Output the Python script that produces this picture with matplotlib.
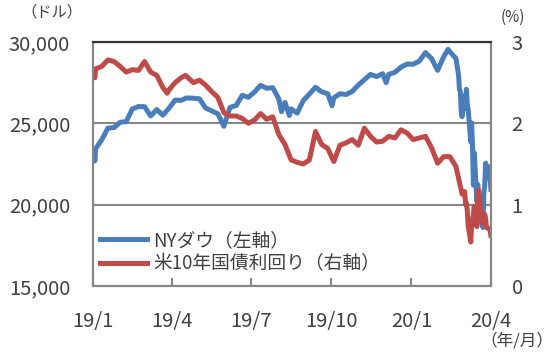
import numpy as np
import matplotlib
matplotlib.use('Agg')
import matplotlib.pyplot as plt

plt.rcParams['font.family'] = ['Noto Sans CJK JP', 'DejaVu Sans']

# NYダウ (ドル)
dow_dates = ['2019-01-02', '2019-01-03', '2019-01-04', '2019-01-11', '2019-01-18', '2019-01-25',
             '2019-02-01', '2019-02-08', '2019-02-15', '2019-02-22', '2019-03-01', '2019-03-08',
             '2019-03-15', '2019-03-22', '2019-03-29', '2019-04-05', '2019-04-12', '2019-04-18',
             '2019-04-26', '2019-05-03', '2019-05-10', '2019-05-17', '2019-05-24', '2019-05-31',
             '2019-06-07', '2019-06-14', '2019-06-21', '2019-06-28', '2019-07-05', '2019-07-12',
             '2019-07-19', '2019-07-26', '2019-08-02', '2019-08-05', '2019-08-09', '2019-08-14',
             '2019-08-16', '2019-08-23', '2019-08-30', '2019-09-06', '2019-09-13', '2019-09-20',
             '2019-09-27', '2019-10-02', '2019-10-04', '2019-10-11', '2019-10-18', '2019-10-25',
             '2019-11-01', '2019-11-08', '2019-11-15', '2019-11-22', '2019-11-29', '2019-12-03',
             '2019-12-06', '2019-12-13', '2019-12-20', '2019-12-27', '2020-01-03', '2020-01-10',
             '2020-01-17', '2020-01-24', '2020-01-31', '2020-02-07', '2020-02-12', '2020-02-14',
             '2020-02-21', '2020-02-24', '2020-02-25', '2020-02-26', '2020-02-27', '2020-02-28',
             '2020-03-02', '2020-03-03', '2020-03-04', '2020-03-05', '2020-03-06', '2020-03-09',
             '2020-03-10', '2020-03-11', '2020-03-12', '2020-03-13', '2020-03-16', '2020-03-17',
             '2020-03-18', '2020-03-19', '2020-03-20', '2020-03-23', '2020-03-24', '2020-03-25',
             '2020-03-26', '2020-03-27', '2020-03-30', '2020-03-31', '2020-04-01']
dow = [23346, 22686, 23433, 23996, 24706, 24737,
       25064, 25106, 25883, 26031, 26026, 25450,
       25849, 25502, 25929, 26425, 26412, 26559,
       26543, 26505, 25942, 25764, 25586, 24815,
       25984, 26090, 26719, 26600, 26922, 27332,
       27154, 27192, 26485, 25718, 26287, 25479,
       25886, 25629, 26403, 26797, 27220, 26935,
       26820, 26079, 26573, 26817, 26770, 26958,
       27347, 27681, 28005, 27876, 28051, 27503,
       28015, 28135, 28455, 28645, 28635, 28824,
       29348, 28990, 28256, 29103, 29551, 29398,
       28992, 27961, 27081, 26957, 25766, 25409,
       26703, 25917, 27091, 26121, 25864, 23851,
       25018, 23553, 21200, 23186, 20189, 21237,
       19899, 20087, 19174, 18592, 20705, 21201,
       22552, 21637, 22328, 21917, 20943]

# 米10年国債利回り (%)
yld_dates = ['2019-01-02', '2019-01-03', '2019-01-04', '2019-01-11', '2019-01-18', '2019-01-25',
             '2019-02-01', '2019-02-08', '2019-02-15', '2019-02-22', '2019-03-01', '2019-03-08',
             '2019-03-15', '2019-03-22', '2019-03-27', '2019-03-29', '2019-04-05', '2019-04-12',
             '2019-04-17', '2019-04-26', '2019-05-03', '2019-05-10', '2019-05-17', '2019-05-24',
             '2019-05-31', '2019-06-07', '2019-06-14', '2019-06-21', '2019-06-28', '2019-07-05',
             '2019-07-12', '2019-07-19', '2019-07-26', '2019-08-02', '2019-08-09', '2019-08-16',
             '2019-08-23', '2019-08-30', '2019-09-06', '2019-09-13', '2019-09-20', '2019-09-27',
             '2019-10-04', '2019-10-11', '2019-10-18', '2019-10-25', '2019-11-01', '2019-11-08',
             '2019-11-15', '2019-11-22', '2019-11-29', '2019-12-06', '2019-12-13', '2019-12-20',
             '2019-12-27', '2020-01-03', '2020-01-10', '2020-01-17', '2020-01-24', '2020-01-31',
             '2020-02-07', '2020-02-14', '2020-02-21', '2020-02-28', '2020-03-02', '2020-03-03',
             '2020-03-04', '2020-03-05', '2020-03-06', '2020-03-09', '2020-03-10', '2020-03-11',
             '2020-03-12', '2020-03-13', '2020-03-16', '2020-03-17', '2020-03-18', '2020-03-19',
             '2020-03-20', '2020-03-23', '2020-03-24', '2020-03-25', '2020-03-26', '2020-03-27',
             '2020-03-30', '2020-03-31', '2020-04-01']
yld = [2.66, 2.56, 2.67, 2.70, 2.78, 2.76,
       2.70, 2.63, 2.66, 2.65, 2.76, 2.63,
       2.59, 2.44, 2.37, 2.41, 2.50, 2.56,
       2.59, 2.50, 2.53, 2.47, 2.39, 2.32,
       2.13, 2.09, 2.09, 2.06, 2.00, 2.04,
       2.12, 2.05, 2.08, 1.86, 1.74, 1.55,
       1.52, 1.50, 1.55, 1.90, 1.74, 1.69,
       1.53, 1.73, 1.76, 1.80, 1.73, 1.94,
       1.84, 1.77, 1.78, 1.84, 1.82, 1.92,
       1.88, 1.80, 1.82, 1.84, 1.70, 1.51,
       1.59, 1.59, 1.47, 1.13, 1.16, 1.00,
       1.02, 0.92, 0.74, 0.54, 0.76, 0.82,
       0.88, 0.98, 0.73, 1.08, 1.18, 1.12,
       0.92, 0.76, 0.84, 0.88, 0.83, 0.72,
       0.70, 0.70, 0.62]

xticks = ['2019-01-01', '2019-04-01', '2019-07-01', '2019-10-01', '2020-01-01', '2020-04-01']
xticklabels = ['19/1', '19/4', '19/7', '19/10', '20/1', '20/4']

txt = '#404040'
grid = '#868686'

fig = plt.figure(figsize=(5.54, 3.53), dpi=100)
ax = fig.add_axes([0.168, 0.19, 0.718, 0.691])
ax2 = ax.twinx()

l1, = ax.plot(np.array(dow_dates, dtype='datetime64[D]'), dow, color='#4a7ebb', lw=3.6,
              solid_joinstyle='round', label='NYダウ（左軸）')
l2, = ax2.plot(np.array(yld_dates, dtype='datetime64[D]'), yld, color='#be4b48', lw=3.6,
               solid_joinstyle='round', label='米10年国債利回り（右軸）')

ax.set_xlim(np.datetime64('2019-01-01'), np.datetime64('2020-04-01'))
ax.set_ylim(15000, 30000)
ax2.set_ylim(0, 3)
ax.set_yticks([15000, 20000, 25000, 30000])
ax.set_yticklabels(['{:,}'.format(v) for v in [15000, 20000, 25000, 30000]])
ax2.set_yticks([0, 1, 2, 3])
ax.set_xticks(np.array(xticks, dtype='datetime64[D]'))
ax.set_xticklabels(xticklabels)

for a in (ax, ax2):
    for s in a.spines.values():
        s.set_color(grid)
        s.set_linewidth(1.5)
    a.spines['top'].set_color('#333333')
ax.yaxis.grid(True, color=grid, lw=1.5)
ax.set_axisbelow(True)

ax.tick_params(axis='y', length=0, pad=16.5, labelsize=14.5, labelcolor=txt)
ax2.tick_params(axis='y', length=0, pad=15, labelsize=14.5, labelcolor=txt)
ax.tick_params(axis='x', direction='in', length=6, width=1.5, color=grid, pad=18,
               labelsize=14.5, labelcolor=txt)

fig.text(0.094, 0.965, '（ドル）', ha='center', va='center', fontsize=11, color=txt)
fig.text(0.925, 0.95, '(%)', ha='center', va='center', fontsize=11, color=txt)
fig.text(0.998, 0.035, '（年/月）', ha='right', va='center', fontsize=12, color=txt)

ax2.legend(handles=[l1, l2], loc='lower left', bbox_to_anchor=(-0.01, 0.0), frameon=False,
           fontsize=13.5, labelcolor=txt, handlelength=2.5, handletextpad=0.3, labelspacing=0.15,
           borderaxespad=0.2)

fig.savefig('out.png', dpi=100)
